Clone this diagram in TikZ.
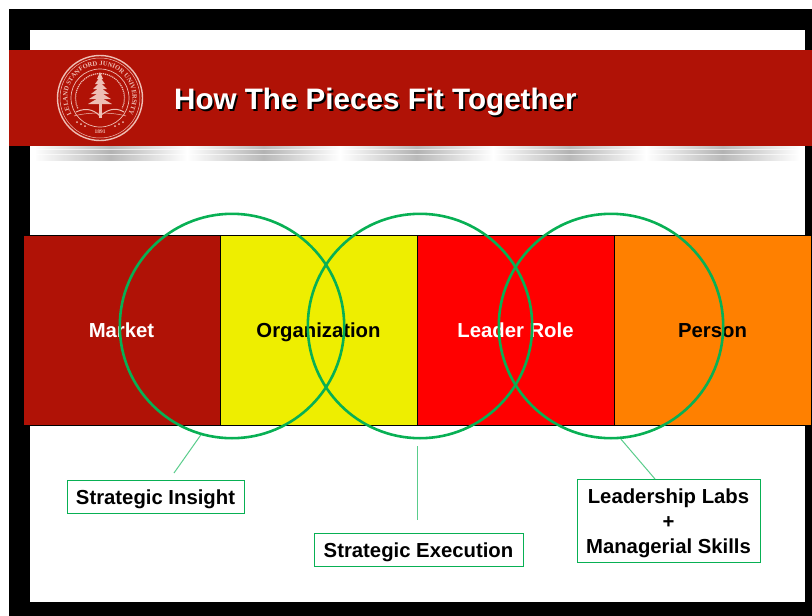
\documentclass[tikz,border=0pt]{standalone}
\usepackage{fontspec}
\setmainfont{Liberation Sans}
\newfontfamily\sealfont{Liberation Serif}
\usetikzlibrary{positioning,decorations.text}
\definecolor{bandred}{RGB}{176,18,6}
\definecolor{sealpink}{RGB}{238,190,180}
\definecolor{ringgreen}{RGB}{8,176,84}
\definecolor{leadergreen}{RGB}{90,205,140}
\definecolor{cellyellow}{RGB}{238,238,0}
\definecolor{cellorange}{RGB}{255,128,0}
\tikzset{
    cell/.style={draw=black,minimum width=197pt,minimum height=190pt,inner sep=0pt,outer sep=0pt,
        text height=19pt,text depth=4.2pt,font=\bfseries\fontsize{20.3}{24}\selectfont},
    ring/.style={draw=ringgreen,line width=2.6pt,circle,minimum size=224.4pt,inner sep=0pt},
    tag/.style={draw=ringgreen,fill=white,line width=0.7pt,align=center,font=\bfseries\fontsize{20.3}{24.8}\selectfont,
        inner sep=0pt},
    leader/.style={draw=leadergreen,line width=1pt},
    seal/.style={draw=sealpink,line width=0.7pt},
    headline/.style={font=\bfseries\fontsize{29.6}{32}\selectfont,anchor=west,inner sep=0pt},
}
\newcommand{\tagstrut}{\rule{0pt}{20pt}}
\newcommand{\shadebar}[1]{
    \fill[left color=white,right color=white,middle color=gray!55] (#1,146) rectangle +(153,3);
    \fill[left color=white,right color=white,middle color=gray!20] (#1,149) rectangle +(153,6);
    \fill[left color=white,right color=white,middle color=gray!60] (#1,150.5) rectangle +(153,3);
    \fill[left color=white,right color=white,middle color=gray!55] (#1,155.8) rectangle +(153,4.2);
}
\begin{document}
\begin{tikzpicture}[x=1pt,y=-1pt]
    \useasboundingbox (0,0) rectangle (812,616);
    % frame
    \fill[black] (9,9) rectangle (812,616);
    \fill[white] (30,30) rectangle (805,602);
    \fill[bandred] (9,50) rectangle (812,146);
    \begin{scope}
        \clip (36,146) rectangle (800,160);
        \foreach \x in {34,187,340,493,646} {
            \shadebar{\x}
        }
    \end{scope}
    % seal
    \draw[seal,line width=1.4pt] (100,98) circle (42.5);
    \draw[seal,line width=0.5pt] (100,98) circle (40);
    \draw[seal] (100,98) circle (29);
    \begin{scope}[shift={(100,98)},y=1pt]
        \path[decorate,decoration={text along path,text align=center,
            text={|\sealfont\fontsize{6.6}{7}\selectfont\bfseries\color{sealpink}|LELAND STANFORD JUNIOR UNIVERSITY}}]
            (222:32.5) arc[start angle=222,end angle=-42,radius=32.5];
        \draw[seal,line width=1.2pt,dash pattern=on 1.2pt off 0.8pt] (205:24.5) arc[start angle=205,end angle=-25,radius=24.5];
    \end{scope}
    \foreach \y/\w in {78/3,83/5,88/7,93/9,98/11,103/12} {
        \fill[sealpink] (100,\y-6) -- (100+\w,\y+1) -- (100-\w,\y+1) -- cycle;
    }
    \fill[sealpink] (98.5,100) rectangle (101.5,118);
    \draw[seal,line width=1pt] (76,112) .. controls (88,106) and (96,112) .. (100,116)
        .. controls (106,111) and (114,106) .. (124,112);
    \draw[seal,line width=0.5pt] (74,116) .. controls (88,112) and (112,112) .. (126,116);
    \foreach \dotx/\doty in {77/122,81/124,85/126,123/122,119/124,115/126} {
        \fill[sealpink] (\dotx,\doty) circle (1);
    }
    \node[text=sealpink,font=\sealfont\bfseries\fontsize{5.5}{6}\selectfont,inner sep=0pt] (year) at (100,132) {1891};
    % title
    \node[headline,text=black] (titleback) at (175.8,104) {How The Pieces Fit Together};
    \node[headline,text=white] (title) at (174,102.2) {How The Pieces Fit Together};
    % cells
    \node[cell,fill=bandred,text=white,anchor=north west] (market) at (23,235) {Market};
    \node[cell,fill=cellyellow,right=0pt of market] (organization) {Organization};
    \node[cell,fill=red,text=white,right=0pt of organization] (leaderrole) {Leader Role};
    \node[cell,fill=cellorange,right=0pt of leaderrole] (person) {Person};
    % circles
    \node[ring] (insight) at (232,326) {};
    \node[ring] (execution) at (420,326) {};
    \node[ring] (skills) at (611,326) {};
    % labels
    \node[tag,minimum width=177pt,minimum height=33pt] (insighttag) at (155.5,496.5) {\tagstrut Strategic Insight};
    \node[tag,minimum width=209pt,minimum height=33pt] (executiontag) at (418.5,549.5) {\tagstrut Strategic Execution};
    \node[tag,minimum width=183pt,minimum height=83pt] (skillstag) at (668.5,520.5) {\tagstrut Leadership Labs\\+\\Managerial Skills};
    % connectors
    \coordinate (insightend) at (174,473);
    \coordinate (executiontop) at (417.5,446);
    \coordinate (executionend) at (417.5,520);
    \coordinate (skillsend) at (655,479);
    \draw[leader] (insight.-106) -- (insightend);
    \draw[leader] (executiontop) -- (executionend);
    \draw[leader] (skills.-85) -- (skillsend);
\end{tikzpicture}
\end{document}
